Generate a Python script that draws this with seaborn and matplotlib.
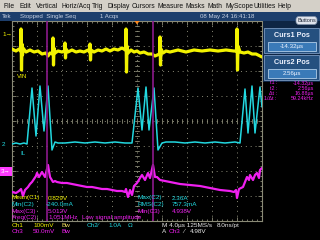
import matplotlib
matplotlib.use("Agg")
import numpy as np
import pandas as pd
import matplotlib.pyplot as plt
import seaborn as sns
from matplotlib.patches import Rectangle, FancyBboxPatch, Polygon

# ---------------- data (time in microseconds, amplitude in screen divisions) ----------------
ch1_t = [-20.0, -19.36, -18.88, -18.64, -18.56, -18.48, -18.40, -18.32, -18.24, -17.76, -17.12,
         -16.48, -15.84, -15.20, -14.56, -14.24, -13.92, -13.52, -13.44, -13.36, -13.28, -13.12,
         -12.64, -12.00, -11.60, -11.52, -11.44, -11.36, -11.04, -10.40, -9.76, -9.12, -8.48,
         -7.84, -7.60, -7.52, -7.44, -7.36, -6.88, -6.24, -5.60, -4.96, -4.32, -3.68, -3.04,
         -2.40, -1.84, -1.76, -1.68, -1.60, -1.44, -0.96, -0.48, 0.00, 0.48, 1.12, 1.76, 2.40,
         2.88, 3.60, 3.68, 3.76, 3.84, 4.16, 4.64, 5.28, 6.56, 7.84, 9.12, 10.40, 11.68, 12.96,
         14.24, 15.52, 15.92, 16.00, 16.08, 16.16, 16.48, 17.12, 17.76, 18.40, 19.04, 19.68, 20.00]
ch1_div = [2.88, 2.80, 2.88, 2.80, 3.68, 2.04, 3.08, 2.64, 2.92, 2.76, 2.84,
           2.76, 2.80, 2.68, 2.72, 2.60, 2.72, 2.68, 3.32, 2.24, 2.92, 2.72,
           2.80, 2.76, 2.80, 3.12, 2.52, 2.88, 2.76, 2.84, 2.76, 2.80, 2.76,
           2.84, 2.76, 3.08, 2.44, 2.84, 2.76, 2.84, 2.80, 2.88, 2.80, 2.88, 2.84,
           2.92, 2.84, 3.68, 1.96, 3.00, 2.72, 2.84, 2.76, 2.80, 2.72, 2.76, 2.68, 2.68,
           2.60, 2.68, 3.36, 2.24, 2.88, 2.72, 2.80, 2.76, 2.84, 2.76, 2.84, 2.80, 2.84, 2.80,
           2.84, 2.80, 2.80, 3.68, 2.04, 3.00, 2.76, 2.72, 2.76, 2.68, 2.68, 2.60, 2.56]

ch2_t = [-20.0, -19.36, -18.72, -18.08, -17.60, -16.80, -16.16, -15.52, -14.88, -14.24, -13.60,
         -13.12, -12.64, -11.52, -9.92, -8.32, -6.72, -5.12, -3.52, -1.92, -0.80, 0.16, 0.80,
         1.44, 1.92, 2.72, 3.36, 4.00, 4.64, 6.08, 7.68, 9.28, 10.88, 12.48, 14.08, 15.68,
         16.48, 17.28, 17.76, 18.40, 18.88, 19.68, 20.00]
ch2_div = [-0.92, -0.88, -0.92, -0.88, -0.92, 1.32, -0.60, 1.40, -0.40, 1.40, -1.16,
           -0.84, -0.88, -0.88, -0.84, -0.88, -0.84, -0.88, -0.84, -0.88, -0.88, 1.32, -0.36,
           1.36, -0.36, 1.32, -1.16, -0.88, -0.84, -0.84, -0.88, -0.84, -0.88, -0.84, -0.88, -0.84,
           -0.88, 1.28, -0.48, 1.40, -0.48, 1.36, 0.56]

ch3_t = [-20.0, -19.36, -18.88, -18.56, -18.24, -17.92, -17.60, -17.44, -17.12, -16.80, -16.48,
         -16.16, -16.00, -15.68, -15.20, -14.72, -14.24, -13.92, -13.44, -13.12, -12.80, -12.00,
         -11.20, -10.40, -9.60, -8.80, -8.00, -7.20, -6.40, -5.60, -4.80, -4.00, -3.20, -2.40,
         -1.92, -1.76, -1.44, -1.12, -0.80, -0.48, 0.00, 0.48, 0.80, 1.28, 1.76, 2.08, 2.56,
         2.88, 3.20, 3.68, 4.48, 5.28, 6.08, 6.88, 8.48, 10.08, 11.68, 13.28, 14.88, 15.52,
         15.84, 16.00, 16.32, 16.64, 16.96, 17.28, 17.60, 17.92, 18.08, 18.56, 18.88, 19.20,
         19.52, 19.68, 20.00]
ch3_div = [-2.84, -2.88, -2.80, -2.72, -3.00, -2.76, -2.68, -2.64, -2.52, -2.44, -2.32,
           -2.20, -2.08, -2.24, -2.04, -2.24, -1.76, -2.24, -2.44, -2.40, -2.44, -2.48,
           -2.48, -2.52, -2.56, -2.60, -2.64, -2.64, -2.68, -2.72, -2.72, -2.76, -2.80, -2.80,
           -2.84, -2.72, -3.04, -2.76, -2.96, -2.60, -2.48, -2.28, -2.16, -2.36, -2.08, -2.28, -1.76,
           -2.24, -2.24, -2.36, -2.40, -2.44, -2.48, -2.52, -2.56, -2.60, -2.68, -2.76, -2.80, -2.84,
           -2.76, -3.08, -2.72, -2.68, -2.64, -2.44, -2.24, -2.36, -2.16, -2.36, -2.16, -2.08,
           -2.28, -1.96, -1.88]

cursor_t = [-14.32, 2.56]

menu_items = ["File", "Edit", "Vertical", "Horiz/Acq", "Trig", "Display", "Cursors",
              "Measure", "Masks", "Math", "MyScope", "Utilities", "Help"]
readout_labels = ["t1 :", "t2 :", "\u0394t :", "1/\u0394t :"]
readout_values = ["-14.32\u00b5s", "2.56\u00b5s", "16.88\u00b5s", "59.24kHz"]

# ---------------- style ----------------
sns.set_theme(style="dark")
plt.rcParams['font.family'] = ['Liberation Sans', 'DejaVu Sans']

YEL = "#f2f200"
CYA = "#22d8e0"
MAG = "#f020f0"
GRID = "#8a8a76"
CURS = "#8c1a8c"

W, H = 320, 240
fig = plt.figure(figsize=(3.2, 2.4), dpi=100, facecolor="black")

# graticule axes
ax = fig.add_axes([12 / W, 1 - 221 / H, 250 / W, 200 / H], zorder=1)
ax.set_facecolor("black")
ax.set_xlim(-20, 20)
ax.set_ylim(-4, 4)
for s in ax.spines.values():
    s.set_color(GRID)
    s.set_linewidth(0.8)
ax.set_xticks(np.arange(-16, 17, 4))
ax.set_yticks(np.arange(-3, 4, 1))
ax.set_xticks(np.arange(-20, 20.01, 0.8), minor=True)
ax.set_yticks(np.arange(-4, 4.01, 0.2), minor=True)
ax.tick_params(which="both", direction="in", top=True, right=True, bottom=True, left=True,
               labelbottom=False, labelleft=False, color=GRID, width=0.6)
ax.tick_params(which="major", length=3)
ax.tick_params(which="minor", length=1.5)
ax.grid(False)

for xv in np.arange(-16, 17, 4):
    ax.axvline(xv, color=GRID, lw=0.7, ls=(0, (1, 4)), zorder=1)
for yv in np.arange(-3, 4, 1):
    ax.axhline(yv, color=GRID, lw=0.7, ls=(0, (1, 4)), zorder=1)
# centre-line ticks
for xv in np.arange(-20, 20.01, 0.8):
    ax.plot([xv, xv], [-0.08, 0.08], color=GRID, lw=0.6, zorder=1)
for yv in np.arange(-4, 4.01, 0.2):
    ax.plot([-0.32, 0.32], [yv, yv], color=GRID, lw=0.6, zorder=1)

# traces
df1 = pd.DataFrame({"t": ch1_t, "v": ch1_div})
df2 = pd.DataFrame({"t": ch2_t, "v": ch2_div})
df3 = pd.DataFrame({"t": ch3_t, "v": ch3_div})
sns.lineplot(data=df3, x="t", y="v", ax=ax, color=MAG, lw=1.6, estimator=None, sort=False, zorder=3)
sns.lineplot(data=df2, x="t", y="v", ax=ax, color=CYA, lw=1.1, estimator=None, sort=False, zorder=4)
sns.lineplot(data=df1, x="t", y="v", ax=ax, color=YEL, lw=2.3, estimator=None, sort=False, zorder=5)
for ct in cursor_t:
    ax.axvline(ct, color=CURS, lw=1.2, zorder=6)
ax.set_xlabel("")
ax.set_ylabel("")

# overlay in pixel coordinates
ov = fig.add_axes([0, 0, 1, 1], zorder=5)
ov.set_xlim(0, W)
ov.set_ylim(H, 0)
ov.axis("off")
ov.patch.set_alpha(0)


def T(x, y, s, color, size=4.6, ha="left", weight="normal"):
    ov.text(x, y, s, color=color, fontsize=size, ha=ha, va="center", fontweight=weight)


# menu bar
ov.add_patch(Rectangle((0, 0), W, 12, facecolor="#d4d0c8", edgecolor="none"))
menu_x = [3, 20, 36, 61, 92, 108, 132, 157, 185, 207, 225, 254, 277]
for mx, m in zip(menu_x, menu_items):
    T(mx, 6.2, m, "#101010", size=4.9)

# status bar
ov.add_patch(Rectangle((0, 12), W, 9, facecolor="#1d3e6c", edgecolor="none"))
T(2, 16.5, "Tek", "#c8d2e4", 4.4)
T(20, 16.5, "Stopped  Single Seq", "#c8d2e4", 4.4)
T(100, 16.5, "1 Acqs", "#c8d2e4", 4.4)
T(200, 16.5, "08 May 24 16:41:18", "#c8d2e4", 4.4)

# right panel
ov.add_patch(Rectangle((262.5, 21), W - 262.5, 61, facecolor="#0e2544", edgecolor="none"))
ov.add_patch(FancyBboxPatch((296, 16.5), 21, 8, boxstyle="round,pad=0,rounding_size=3",
                            facecolor="#dfe3ec", edgecolor="#8090a8", lw=0.5))
T(306.5, 20.7, "Buttons", "#202838", 4.0, ha="center")
for (py, title, val) in [(28, "Curs1 Pos", "-14.32\u00b5s"), (55, "Curs2 Pos", "2.56\u00b5s")]:
    ov.add_patch(Rectangle((264, py), 55, 25, facecolor="#25507f", edgecolor="#7898c0", lw=0.6))
    ov.add_patch(Rectangle((268, py + 14), 48, 9, facecolor="#3a7ab8", edgecolor="#b0cce8", lw=0.6))
    T(291.5, py + 7.5, title, "#f0f4ff", 5.2, ha="center", weight="bold")
    T(292, py + 18.7, val, "#f0f4ff", 4.4, ha="center")
for i, (lab, val) in enumerate(zip(readout_labels, readout_values)):
    yy = 83 + i * 5.2
    T(277, yy, lab, MAG, 3.9, ha="right")
    T(314, yy, val, MAG, 3.9, ha="right")

# trigger marker on top ruler
ov.add_patch(Polygon([[134.5, 21], [139.5, 21], [137, 24.5]], closed=True, facecolor="#ff8a20",
                     edgecolor="none"))

# channel markers
T(2, 34, "1\u2192", YEL, 4.6)
T(2, 144, "2", CYA, 4.6)
ov.add_patch(Rectangle((0, 167), 11.5, 8.5, facecolor="#ff3cff", edgecolor="none"))
T(1, 171.3, "3\u2192", "#ffffff", 4.4)
T(17, 76, "VIN", YEL, 4.4)
T(20, 153.5, "IL", CYA, 4.4)

# measurement readouts inside graticule
rows = [198, 204.6, 211.2, 217.8]
T(12, rows[0], "Mean(C1)", YEL); T(48, rows[0], "0.829V", YEL)
T(12, rows[1], "Min(C2)", CYA); T(46, rows[1], "-240.0mA", CYA)
T(12, rows[2], "Max(C3)", MAG); T(48, rows[2], "5.012V", MAG)
T(12, rows[3], "Freq(C2)", MAG); T(48, rows[3], "1.051MHz", MAG)
T(82, rows[3], "Low signal amplitude", MAG)
T(137, rows[0], "Max(C2)", CYA); T(172, rows[0], "2.36A", CYA)
T(137, rows[1], "RMS(C2)", CYA); T(172, rows[1], "757.3mA", CYA)
T(137, rows[2], "Min(C3)", MAG); T(172, rows[2], "4.938V", MAG)

# channel settings below graticule
T(12, 225.5, "Ch1", YEL); T(33, 225.5, "100mV", YEL); T(62, 225.5, "Bw", "#f0e060")
T(87, 225.5, "Ch2\u2044", CYA); T(108, 225.5, "1.0A", CYA); T(128, 225.5, "\u03a9", CYA)
T(162, 225.5, "M 4.0\u00b5s 125MS/s", "#e8e8e8"); T(217, 225.5, "8.0ns/pt", "#e8e8e8")
T(12, 231.5, "Ch3", MAG); T(33, 231.5, "50.0mV", MAG); T(62, 231.5, "Bw", MAG)
T(162, 231.5, "A", "#e8e8e8"); T(169, 231.5, "Ch3", MAG); T(183, 231.5, "\u2215", "#e8e8e8")
T(190, 231.5, "4.98V", "#e8e8e8")

fig.savefig("out.png", dpi=100, facecolor="black")
